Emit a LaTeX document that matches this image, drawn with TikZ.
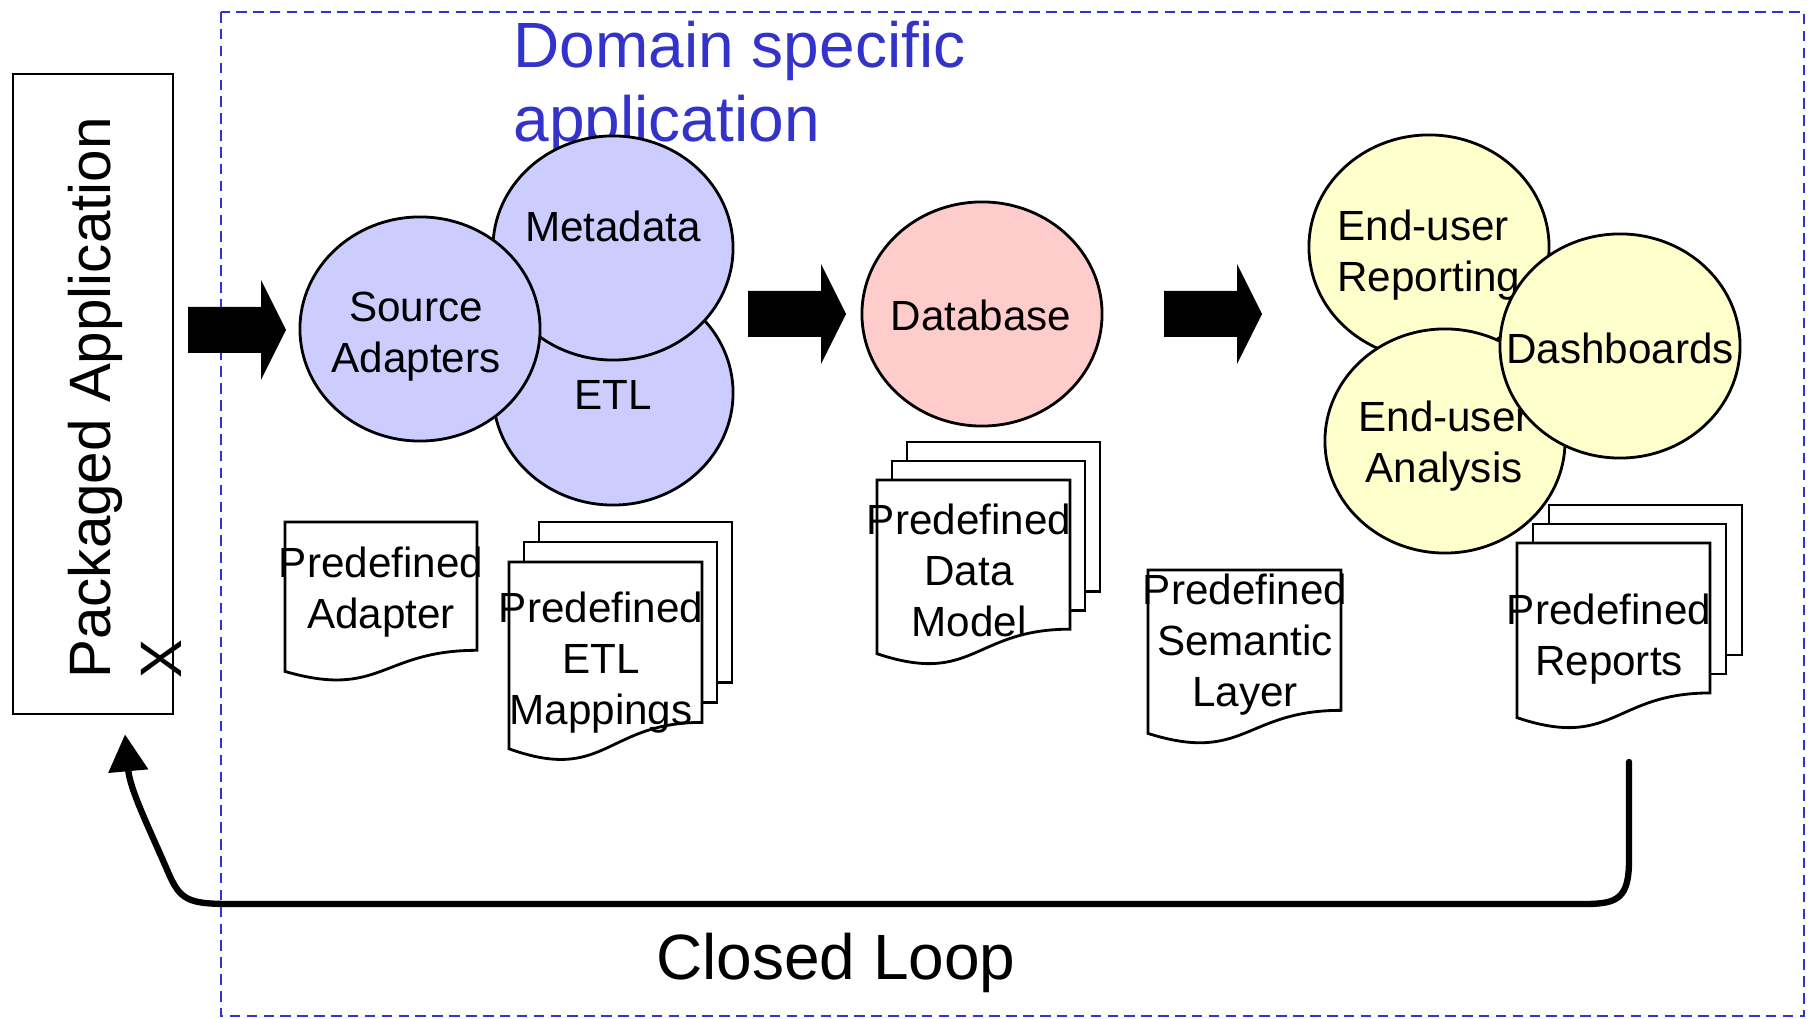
\documentclass[tikz,border=0pt]{standalone}
\usepackage{fontspec}
\setmainfont{Liberation Sans}
\usepackage{xcolor}
\usepackage{tikz}
\usetikzlibrary{calc,shapes.geometric,arrows.meta}

\definecolor{frameblue}{RGB}{51,51,204}
\definecolor{etlblue}{RGB}{204,204,255}
\definecolor{dbpink}{RGB}{255,204,204}
\definecolor{biyellow}{RGB}{255,255,204}

\tikzset{
	bubble/.style={ellipse, draw, line width=0.8pt, minimum width=2.4cm, minimum height=2.24cm, inner sep=0pt},
	lbl/.style={align=center, font=\fontsize{12}{14.5}\selectfont, inner sep=0pt},
	docline/.style={draw, fill=white, line width=0.8pt},
	loopline/.style={line width=1.8pt, line cap=round, -{Triangle[length=10.5pt 0, width=11pt 0]}}
}

% page with wavy bottom: x, y, w, h
\newcommand{\docpage}[4]{
	\pgfmathsetmacro\dxr{#1+#3}
	\pgfmathsetmacro\dxm{#1+0.5*#3}
	\pgfmathsetmacro\dyr{#2+0.802*#4}
	\pgfmathsetmacro\dyc{#2+1.1075*#4}
	\pgfmathsetmacro\dyl{#2+0.934*#4}
	\draw[docline] (#1,#2) -- (\dxr,#2) -- (\dxr,\dyr) .. controls (\dxm,\dyr) and (\dxm,\dyc) .. (#1,\dyl) -- cycle;
}
\newcommand{\backpage}[4]{
	\pgfmathsetmacro\bxr{#1+#3}
	\pgfmathsetmacro\byr{#2+0.802*#4}
	\draw[docline] (#1,#2) rectangle (\bxr,\byr);
}
% three pages: x, y, w, h, dx, dy
\newcommand{\docstack}[6]{
	\pgfmathsetmacro\sxa{#1+2*#5}
	\pgfmathsetmacro\sya{#2+2*#6}
	\backpage{\sxa}{\sya}{#3}{#4}
	\pgfmathsetmacro\sxb{#1+#5}
	\pgfmathsetmacro\syb{#2+#6}
	\backpage{\sxb}{\syb}{#3}{#4}
	\docpage{#1}{#2}{#3}{#4}
}

\begin{document}
\begin{tikzpicture}[x=0.01cm, y=-0.01cm]
			\useasboundingbox (0,0) rectangle (1811,1019);
			\draw[frameblue, line width=0.65pt, dash pattern=on 3pt off 1.8pt] (221,12) rectangle (1804,1016);
			\node[anchor=north west, align=left, text=frameblue, font=\fontsize{18.2}{21.3}\selectfont, inner sep=0pt] (domainTitle) at (513,20) {Domain specific\\application};

			\node[draw, line width=0.7pt, minimum width=1.6cm, minimum height=6.4cm] (pkg) at (93,394) {};
			\node[rotate=90, align=left, font=\fontsize{16.6}{20}\selectfont, inner sep=0pt] (pkgText) at (125,398) {Packaged Application\\X};

			\foreach \ax/\ay in {188/330, 748/314, 1164/314}
				\fill (\ax,\ay) ++(0,-23) -- ++(73,0) -- ++(0,-27) -- ++(25,50) -- ++(-25,50) -- ++(0,-27) -- ++(-73,0) -- cycle;

			\node[bubble, fill=etlblue] (etl) at (613,393) {};
			\node[lbl] (etlText) at (613,395) {ETL};
			\node[bubble, fill=etlblue] (meta) at (613,248) {};
			\node[lbl] (metaText) at (613,226) {Metadata};
			\node[bubble, fill=etlblue] (src) at (420,329) {};
			\node[lbl] (srcText) at (416,337) {Source\\Adapters};

			\node[bubble, fill=dbpink] (db) at (982,314) {};
			\node[lbl] (dbText) at (981,315) {Database};

			\docpage{285}{522}{192}{160}
			\node[lbl] (adapterDoc) at (381,592) {Predefined\\Adapter};
			\docstack{509}{562}{193}{200}{15}{-20}
			\node[lbl] (mappingDoc) at (601,663) {Predefined\\ETL\\Mappings};
			\docstack{877}{480}{193}{186}{15}{-19}
			\node[lbl] (modelDoc) at (969,570) {Predefined\\Data\\Model};
			\docpage{1148}{570}{193}{175}
			\node[lbl] (semanticDoc) at (1245,645) {Predefined\\Semantic\\Layer};
			\docstack{1517}{543}{193}{187}{16}{-19}
			\node[lbl] (reportDoc) at (1609,639) {Predefined\\Reports};

			\node[bubble, fill=biyellow] (rep) at (1429,247) {};
			\node[lbl, align=left] (repText) at (1429,255) {End-user\\Reporting};
			\node[bubble, fill=biyellow] (ana) at (1445,441) {};
			\node[lbl] (anaText) at (1444,446) {End-user\\Analysis};
			\node[bubble, fill=biyellow] (dash) at (1620,346) {};
			\node[lbl] (dashText) at (1620,348) {Dashboards};

			\coordinate (loopStart) at (1629,762);
			\draw[loopline] (loopStart) -- (1629,860) .. controls (1629,898) and (1618,904) .. (1585,904) -- (230,904) .. controls (188,904) and (180,900) .. (168,872) .. controls (150,830) and (130,790) .. ($(pkg.south)+(32,19)$);
			\node[anchor=base, font=\fontsize{18.2}{21.3}\selectfont, inner sep=0pt] (loopText) at (836,980) {Closed Loop};
		\end{tikzpicture}
\end{document}
